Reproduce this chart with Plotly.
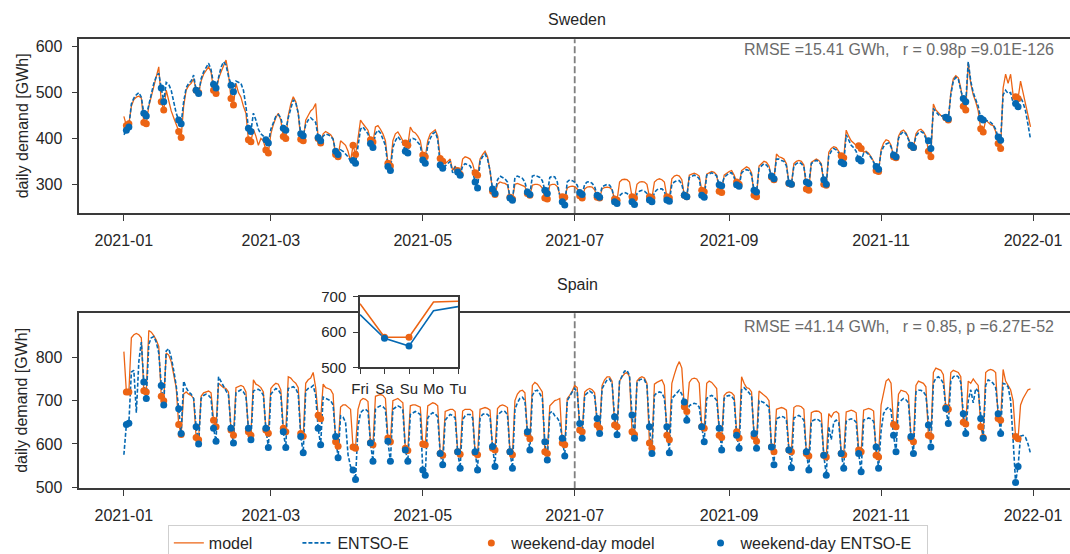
import pandas as pd
import plotly.graph_objects as go

# ---------------- data (GWh per day, 2021-01-01 .. 2021-12-31) ----------------
dates = pd.date_range("2021-01-01", "2021-12-31", freq="D")

sweden_model = [
    448, 428, 432,
    470, 485, 490, 492, 488, 435, 432,
    470, 490, 515, 530, 556, 480, 462,
    505, 480, 460, 445, 430, 415, 402,
    470, 505, 515, 520, 530, 505, 500,
    525, 540, 548, 556, 545, 505, 498,
    530, 545, 560, 571, 540, 487, 473,
    520, 500, 490, 470, 455, 397, 393,
    420, 405, 385, 400, 395, 375, 368,
    410, 430, 445, 455, 440, 404, 400,
    450, 475, 491, 480, 455, 398, 395,
    440, 450, 460, 465, 476, 400, 390,
    410, 415, 412, 408, 400, 365, 360,
    395, 390, 385, 372, 350, 385, 365,
    400, 440, 432, 425, 418, 397, 392,
    425, 428, 420, 410, 395, 346, 340,
    395, 410, 414, 405, 395, 390, 385,
    425, 415, 412, 405, 395, 364, 360,
    395, 410, 415, 419, 405, 356, 350,
    345, 350, 355, 330, 340, 330, 322,
    355, 360, 358, 355, 345, 325, 320,
    355, 365, 372, 360, 330, 285, 278,
    300, 305, 303, 302, 298, 272, 268,
    300, 302, 300, 298, 295, 280, 276,
    298, 300, 300, 298, 292, 270, 268,
    298, 300, 300, 295, 278, 273, 272,
    292, 295, 296, 295, 290, 275, 270,
    290, 294, 295, 294, 288, 272, 270,
    290, 293, 294, 293, 288, 268, 265,
    305, 310, 311, 310, 305, 273, 270,
    300, 305, 306, 305, 300, 273, 270,
    305, 310, 312, 310, 305, 273, 270,
    312, 318, 320, 318, 310, 276, 273,
    320, 322, 324, 322, 318, 287, 284,
    322, 325, 328, 326, 320, 285, 282,
    320, 325, 328, 330, 320, 305, 300,
    330, 335, 338, 335, 325, 276, 273,
    340, 345, 350, 348, 340, 316, 310,
    366, 360, 358, 355, 345, 302, 300,
    345, 350, 352, 350, 342, 290, 287,
    348, 352, 355, 352, 345, 300, 298,
    370, 378, 382, 380, 372, 362, 358,
    418, 405, 395, 390, 385, 384, 378,
    370, 372, 368, 360, 350, 330, 328,
    375, 390, 397, 395, 385, 360, 358,
    405, 415, 418, 412, 400, 384, 380,
    410, 418, 420, 415, 405, 372, 360,
    475, 462, 455, 450, 448, 445, 440,
    500, 530, 537, 532, 510, 470, 462,
    565, 520, 495, 480, 460, 421, 414,
    440, 435, 430, 428, 415, 389, 378,
    510, 540, 520, 540, 495, 491, 487,
    525, 500, 470, 445, 425,
]

sweden_entsoe = [
    408, 418, 425,
    475, 488, 495, 500, 490, 455, 449,
    475, 495, 520, 535, 542, 510, 480,
    522, 518, 505, 480, 455, 440, 432,
    480, 510, 520, 525, 538, 505, 498,
    530, 545, 555, 564, 550, 518, 510,
    535, 555, 567, 560, 535, 516, 502,
    525, 522, 520, 505, 470, 422, 415,
    455, 440, 420, 410, 405, 397, 390,
    420, 435, 448, 452, 445, 422, 418,
    445, 468, 484, 478, 455, 410, 406,
    430, 440, 445, 440, 435, 402, 395,
    405, 410, 408, 405, 398, 372, 365,
    375, 372, 365, 360, 350, 352, 346,
    380, 420, 425, 418, 410, 389, 380,
    410, 418, 412, 400, 385, 339, 330,
    380, 395, 404, 398, 390, 372, 368,
    398, 400, 398, 392, 385, 353, 346,
    385, 400, 410, 414, 398, 342, 335,
    340, 345, 350, 325, 338, 327, 320,
    340, 345, 343, 340, 330, 305, 292,
    350, 360, 366, 355, 330, 290, 280,
    310, 318, 315, 312, 305, 270, 265,
    315, 318, 316, 313, 305, 283, 278,
    318, 320, 318, 315, 308, 287, 280,
    315, 318, 316, 305, 275, 262, 255,
    305, 310, 308, 305, 298, 282, 278,
    300, 305, 306, 302, 295, 276, 272,
    295, 298, 300, 298, 290, 262, 258,
    275, 280, 282, 280, 275, 262, 256,
    280, 285, 287, 285, 280, 266, 262,
    282, 288, 290, 290, 285, 266, 263,
    300, 305, 308, 308, 300, 276, 273,
    315, 318, 320, 318, 312, 276, 272,
    320, 322, 325, 323, 318, 299, 297,
    315, 320, 325, 325, 315, 299, 296,
    325, 330, 332, 330, 320, 287, 283,
    335, 340, 345, 342, 335, 318, 312,
    355, 355, 352, 350, 340, 303, 300,
    340, 345, 348, 345, 338, 305, 302,
    345, 350, 352, 350, 342, 310, 300,
    362, 372, 378, 375, 368, 348, 345,
    408, 395, 385, 380, 372, 355, 351,
    368, 370, 365, 358, 348, 339, 333,
    370, 382, 388, 390, 382, 364, 360,
    400, 410, 415, 410, 398, 385, 380,
    405, 412, 415, 412, 400, 395, 378,
    465, 458, 452, 448, 450, 446, 443,
    495, 525, 533, 530, 505, 487, 480,
    567, 525, 500, 485, 470, 444, 440,
    440, 438, 435, 430, 420, 403, 396,
    495, 505, 498, 500, 478, 476, 469,
    490, 478, 460, 430, 398,
]

spain_model = [
    813, 720, 720,
    845, 852, 855, 852, 845, 723, 720,
    862, 858, 850, 840, 825, 710, 700,
    810, 805, 790, 760, 730, 645, 622,
    715, 720, 715, 712, 705, 615, 610,
    710, 718, 720, 722, 718, 655, 640,
    740, 735, 730, 728, 720, 632, 620,
    730, 733, 735, 732, 720, 628, 620,
    748, 738, 735, 730, 720, 632, 625,
    728, 735, 740, 738, 725, 636, 628,
    755, 752, 745, 740, 730, 624, 618,
    740, 748, 752, 765, 730, 666, 658,
    738, 730, 728, 725, 715, 605, 595,
    685, 690, 690, 685, 680, 593, 590,
    680, 700, 705, 703, 698, 603, 598,
    710, 712, 714, 712, 705, 614, 605,
    700, 702, 705, 700, 695, 590, 585,
    688, 690, 690, 688, 685, 600, 598,
    688, 692, 695, 693, 688, 578, 574,
    675, 678, 680, 680, 675, 582, 576,
    676, 680, 680, 680, 675, 580, 575,
    680, 682, 684, 682, 678, 590, 586,
    682, 688, 690, 688, 684, 582, 575,
    700, 715, 722, 724, 718, 624, 612,
    735, 742, 738, 730, 720, 582, 578,
    688, 695, 700, 702, 705, 602, 598,
    705, 712, 722, 735, 730, 632, 628,
    720, 725, 728, 725, 718, 644, 636,
    735, 748, 755, 755, 745, 644, 640,
    745, 755, 762, 765, 755, 628, 622,
    745, 752, 755, 752, 740, 602, 590,
    738, 742, 745, 748, 735, 620, 610,
    740, 760, 778, 790, 775, 686, 675,
    742, 750, 752, 750, 740, 640, 636,
    740, 745, 742, 735, 728, 620, 615,
    712, 718, 720, 718, 712, 628, 614,
    755, 740, 730, 728, 720, 617, 606,
    722, 718, 712, 708, 700, 593, 582,
    680, 682, 684, 682, 678, 586, 582,
    684, 688, 688, 686, 680, 578, 572,
    672, 675, 676, 675, 670, 574, 570,
    670, 662, 672, 675, 670, 578, 575,
    674, 676, 678, 676, 672, 586, 582,
    678, 680, 682, 680, 676, 574, 570,
    690, 720, 745, 750, 740, 645, 640,
    715, 724, 722, 720, 712, 613, 605,
    735, 745, 742, 740, 732, 620, 617,
    765, 775, 772, 770, 760, 684, 680,
    765, 770, 768, 765, 755, 650, 646,
    745, 740, 750, 742, 735, 640, 615,
    765, 770, 772, 770, 765, 659, 655,
    772, 745, 735, 725, 700, 617, 612,
    690, 705, 715, 725, 727,
]

spain_entsoe = [
    575, 645, 648,
    766, 770, 672, 790, 835, 743, 705,
    830, 845, 848, 835, 810, 735, 690,
    815, 820, 800, 770, 735, 681, 624,
    745, 730, 720, 715, 705, 640, 600,
    705, 712, 715, 712, 705, 636, 606,
    755, 745, 735, 725, 712, 636, 602,
    718, 722, 725, 720, 710, 636, 610,
    722, 725, 726, 722, 712, 636, 592,
    715, 722, 728, 725, 715, 628, 592,
    728, 730, 732, 728, 715, 617, 580,
    722, 728, 730, 735, 712, 636, 598,
    708, 705, 702, 700, 690, 617, 568,
    665, 662, 650, 575, 548, 540, 518,
    640, 672, 678, 680, 675, 602, 560,
    680, 685, 688, 686, 680, 606, 560,
    680, 685, 688, 685, 678, 586, 560,
    668, 672, 675, 672, 668, 540, 528,
    660, 668, 672, 670, 662, 578, 552,
    655, 662, 668, 666, 660, 582, 544,
    656, 665, 668, 668, 660, 582, 540,
    660, 668, 670, 668, 662, 594, 548,
    665, 672, 676, 675, 668, 582, 544,
    680, 695, 705, 708, 700, 628, 586,
    712, 722, 724, 716, 705, 605, 563,
    672, 675, 665, 660, 650, 613, 572,
    700, 712, 720, 728, 720, 647, 613,
    712, 718, 722, 718, 710, 659, 624,
    728, 740, 748, 750, 740, 663, 621,
    745, 758, 768, 770, 758, 667, 613,
    740, 748, 750, 748, 735, 640, 578,
    712, 718, 720, 718, 705, 640, 580,
    705, 712, 718, 724, 715, 697, 655,
    688, 692, 694, 692, 685, 640, 605,
    705, 710, 712, 708, 700, 636, 586,
    705, 710, 712, 710, 702, 620, 590,
    725, 730, 725, 718, 710, 624, 590,
    700, 698, 695, 690, 685, 593, 552,
    658, 662, 664, 662, 655, 586, 545,
    660, 664, 666, 662, 655, 582, 540,
    652, 656, 658, 655, 650, 574, 528,
    640, 610, 650, 655, 650, 578, 544,
    652, 656, 658, 656, 650, 578, 536,
    655, 658, 660, 658, 652, 593, 544,
    630, 670, 680, 685, 678, 620, 582,
    695, 700, 705, 702, 695, 617, 578,
    720, 724, 724, 720, 712, 644, 593,
    740, 752, 755, 750, 740, 682, 647,
    745, 755, 758, 755, 742, 670, 624,
    700, 725, 695, 728, 722, 659, 613,
    735, 748, 745, 740, 730, 670, 624,
    740, 738, 732, 700, 610, 511, 548,
    618, 620, 615, 600, 578,
]

inset_days = ["Fri", "Sa", "Su", "Mo", "Tu"]
inset_model = [680, 585, 585, 685, 687]
inset_entsoe = [649, 582, 560, 660, 672]
inset_weekend_idx = [1, 2]

legend_names = ["model", "ENTSO-E", "weekend-day model", "weekend-day ENTSO-E"]
sweden_stats = "RMSE =15.41 GWh,\u00a0\u00a0\u00a0r = 0.98p =9.01E-126"
spain_stats = "RMSE =41.14 GWh,\u00a0\u00a0\u00a0r = 0.85, p =6.27E-52"

# ---------------- styling ----------------
ORANGE = "#EC6414"
BLUE = "#0569B3"
AXIS = "#3a3a3a"
TXT = "#262626"
FONT = "Liberation Sans, Arial, Helvetica, sans-serif"
W, H = 1070, 554
NB = "\u00a0"
legend_pad = [9, 13, 9, 2]  # trailing spacing in legend entries


def py(px):  # pixel from top -> paper y
    return 1 - px / H


def pxx(px):
    return px / W


weekend = dates.dayofweek >= 5
wk_dates = dates[weekend]

fig = go.Figure()


def add_country(model, entsoe, xa, ya, legend):
    m = pd.Series(model, index=dates)
    e = pd.Series(entsoe, index=dates)
    names = [n + NB * p for n, p in zip(legend_names, legend_pad)]
    fig.add_trace(go.Scatter(x=dates, y=m.values, mode="lines", name=names[0],
                             line=dict(color=ORANGE, width=1.3), xaxis=xa, yaxis=ya,
                             showlegend=legend))
    fig.add_trace(go.Scatter(x=dates, y=e.values, mode="lines", name=names[1],
                             line=dict(color=BLUE, width=1.6, dash="4px,2px"), xaxis=xa, yaxis=ya,
                             showlegend=legend))
    fig.add_trace(go.Scatter(x=wk_dates, y=m[weekend].values, mode="markers", name=names[2],
                             marker=dict(color=ORANGE, size=7), xaxis=xa, yaxis=ya,
                             showlegend=legend))
    fig.add_trace(go.Scatter(x=wk_dates, y=e[weekend].values, mode="markers", name=names[3],
                             marker=dict(color=BLUE, size=7), xaxis=xa, yaxis=ya,
                             showlegend=legend))


add_country(sweden_model, sweden_entsoe, "x", "y", True)
add_country(spain_model, spain_entsoe, "x2", "y2", False)

# inset
ix = list(range(len(inset_days)))
fig.add_trace(go.Scatter(x=ix, y=inset_model, mode="lines",
                         line=dict(color=ORANGE, width=1.6), xaxis="x3", yaxis="y3", showlegend=False))
fig.add_trace(go.Scatter(x=ix, y=inset_entsoe, mode="lines",
                         line=dict(color=BLUE, width=1.6), xaxis="x3", yaxis="y3", showlegend=False))
fig.add_trace(go.Scatter(x=inset_weekend_idx, y=[inset_model[i] for i in inset_weekend_idx], mode="markers",
                         marker=dict(color=ORANGE, size=7), xaxis="x3", yaxis="y3", showlegend=False))
fig.add_trace(go.Scatter(x=inset_weekend_idx, y=[inset_entsoe[i] for i in inset_weekend_idx], mode="markers",
                         marker=dict(color=BLUE, size=7), xaxis="x3", yaxis="y3", showlegend=False))

t0 = pd.Timestamp("2021-01-01")
xr = [t0 - pd.Timedelta(days=17.9), t0 + pd.Timedelta(days=379.85)]

xcommon = dict(type="date", range=xr, tick0="2021-01-01", dtick="M2", tickformat="%Y-%m",
               showgrid=False, zeroline=False, showline=True, mirror=True, linecolor=AXIS, linewidth=1.5,
               ticks="outside", ticklen=6, tickwidth=1.3, tickcolor=AXIS, automargin=False,
               tickfont=dict(size=16, color=TXT, family=FONT), ticklabelstandoff=6,
               domain=[pxx(79.3), 1.0])
ycommon = dict(showgrid=False, zeroline=False, showline=True, mirror=False, linecolor=AXIS, linewidth=1.5,
               ticks="outside", ticklen=6, tickwidth=1.3, tickcolor=AXIS, automargin=False,
               tickfont=dict(size=16, color=TXT, family=FONT), ticklabelstandoff=6)
inset_common = dict(showgrid=False, zeroline=False, showline=True, mirror=True, linecolor=AXIS, linewidth=1.5,
                    ticks="outside", ticklen=5, tickwidth=1.3, tickcolor=AXIS, automargin=False,
                    tickfont=dict(size=15, color=TXT, family=FONT))

fig.update_layout(
    width=W, height=H,
    margin=dict(l=0, r=0, t=0, b=0, pad=0, autoexpand=False),
    paper_bgcolor="white", plot_bgcolor="white",
    font=dict(family=FONT, size=16, color=TXT),
    xaxis=dict(**xcommon, anchor="y"),
    yaxis=dict(**ycommon, anchor="x", domain=[py(213.3), py(39.3)], range=[236.8, 616.1],
               tickvals=[300, 400, 500, 600]),
    xaxis2=dict(**xcommon, anchor="y2"),
    yaxis2=dict(**ycommon, anchor="x2", domain=[py(488.3), py(313.3)], range=[497.7, 901.5],
                tickvals=[500, 600, 700, 800]),
    xaxis3=dict(**inset_common, anchor="y3", domain=[pxx(360), pxx(458)], range=[0, 4],
                tickvals=ix, ticktext=inset_days, ticklabelstandoff=2),
    yaxis3=dict(**inset_common, anchor="x3", domain=[py(367.3), py(296.7)], range=[500, 700],
                tickvals=[500, 600, 700], ticklabelstandoff=4),
    legend=dict(orientation="h", x=0.512, xanchor="center", y=py(525), yanchor="top",
                bordercolor="#cfcfcf", borderwidth=1, bgcolor="white",
                font=dict(size=16, color=TXT, family=FONT), traceorder="normal"),
    showlegend=True,
)

# vertical dashed reference lines at 2021-07-01
for xref, yref in [("x", "y domain"), ("x2", "y2 domain")]:
    fig.add_shape(type="line", xref=xref, yref=yref, x0="2021-07-01", x1="2021-07-01", y0=0, y1=1,
                  line=dict(color="#7f7f7f", width=1.8, dash="7px,3px"), layer="below")

for text, ypx in [("Sweden", 20), ("Spain", 284)]:
    fig.add_annotation(text=text, x=pxx(577), y=py(ypx), xref="paper", yref="paper",
                       xanchor="center", yanchor="middle", showarrow=False,
                       font=dict(size=16, color=TXT, family=FONT))

for txt, ypx in [(sweden_stats, 50), (spain_stats, 326)]:
    fig.add_annotation(text=txt, x=pxx(1056), y=py(ypx), xref="paper", yref="paper",
                       xanchor="right", yanchor="middle", showarrow=False,
                       font=dict(size=16, color="#6b6b6b", family=FONT))

for ypx in [126.3, 400.8]:
    fig.add_annotation(text="daily demand [GWh]", x=pxx(22), y=py(ypx), xref="paper", yref="paper",
                       xanchor="center", yanchor="middle", textangle=-90, showarrow=False,
                       font=dict(size=16, color=TXT, family=FONT))

fig.write_html("out.html")
